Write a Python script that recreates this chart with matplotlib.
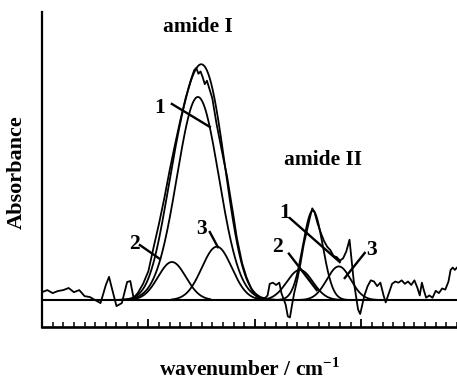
import numpy as np
import matplotlib
matplotlib.use("Agg")
import matplotlib.pyplot as plt
from matplotlib.ticker import MultipleLocator, NullFormatter

plt.rcParams['font.family'] = ['Liberation Serif', 'DejaVu Serif']
plt.rcParams['mathtext.fontset'] = 'custom'
plt.rcParams['mathtext.rm'] = 'Liberation Serif:bold'
plt.rcParams['mathtext.bf'] = 'Liberation Serif:bold'

# ---- measured spectrum (wavenumber / cm-1, absorbance, arbitrary units) ----
meas_wn = [1800, 1795, 1790, 1785, 1780, 1775, 1770, 1765, 1760, 1755, 1750, 1745,
           1740, 1737, 1734, 1730, 1725, 1720, 1717, 1714, 1710, 1705, 1700, 1695,
           1690, 1685, 1680, 1675, 1670, 1665, 1660, 1657, 1655, 1653, 1651, 1649,
           1647, 1645, 1642, 1640, 1636, 1630, 1626, 1620, 1617, 1612, 1608, 1603,
           1598, 1593, 1590, 1588, 1586, 1583, 1580, 1577, 1575, 1573, 1571, 1569,
           1567, 1565, 1563, 1560, 1557, 1554, 1551, 1548, 1546, 1544, 1541, 1538,
           1535, 1532, 1529, 1526, 1523, 1520, 1517, 1514, 1511, 1509, 1507, 1505,
           1503, 1501, 1499, 1497, 1494, 1491, 1488, 1485, 1482, 1479, 1477, 1474,
           1471, 1468, 1465, 1462, 1459, 1456, 1453, 1450, 1447, 1445, 1443, 1441,
           1439, 1436, 1433, 1430, 1427, 1424, 1421, 1418, 1416, 1414, 1412, 1410]
meas_ab = [0.034, 0.043, 0.030, 0.039, 0.043, 0.052, 0.034, 0.043, 0.017, 0.013, 0.000, -0.013,
           0.065, 0.100, 0.045, -0.026, -0.013, 0.078, 0.082, 0.010, 0.030, 0.070, 0.125, 0.230,
           0.330, 0.440, 0.560, 0.670, 0.775, 0.870, 0.950, 0.990, 1.000, 0.975, 0.985, 0.960,
           0.930, 0.945, 0.900, 0.870, 0.760, 0.620, 0.530, 0.360, 0.270, 0.160, 0.100, 0.045,
           0.013, 0.008, 0.010, 0.020, 0.070, 0.075, 0.065, 0.075, 0.030, 0.005, -0.020, -0.070,
           -0.075, -0.020, 0.030, 0.090, 0.160, 0.240, 0.300, 0.360, 0.395, 0.380, 0.330, 0.290,
           0.255, 0.230, 0.215, 0.190, 0.185, 0.170, 0.180, 0.210, 0.260, 0.170, 0.080, 0.020,
           -0.040, -0.060, -0.020, 0.020, 0.060, 0.085, 0.080, 0.060, 0.075, 0.020, -0.010, 0.030,
           0.070, 0.080, 0.075, 0.085, 0.070, 0.080, 0.065, 0.085, 0.050, 0.020, 0.075, 0.040,
           0.010, 0.020, 0.010, 0.040, 0.030, 0.050, 0.045, 0.080, 0.130, 0.140, 0.130, 0.140]

# ---- fitted Gaussian band components: centre (cm-1), height, sigma (cm-1), plotted range ----
band_names   = ['I-1', 'I-2', 'I-3', 'II-1', 'II-2', 'II-3']
band_centre  = [1653.5, 1677.9, 1635.7, 1545.5, 1557.7, 1521.1]
band_height  = [0.875, 0.164, 0.230, 0.385, 0.130, 0.145]
band_sigma   = [19.7, 13.1, 14.1, 9.4, 12.2, 11.3]
band_from    = [1745, 1717, 1678, 1580, 1590, 1560]
band_to      = [1570, 1642, 1590, 1510, 1513, 1480]
amideI_fit_range = (1745, 1575)

# ---- text labels ----
region_labels = ['amide I', 'amide II']
region_pos = [(1653.5, 1.177), (1536.0, 0.603)]
num_labels = ['1', '2', '3', '1', '2', '3']
num_pos = [(1689.0, 0.828), (1713.6, 0.241), (1649.8, 0.306),
           (1571.8, 0.375), (1578.4, 0.228), (1490.1, 0.216)]
leader_start = [(1678.0, 0.845), (1708.0, 0.237), (1642.3, 0.293),
                (1567.1, 0.353), (1568.0, 0.200), (1496.7, 0.203)]
leader_end = [(1642.3, 0.746), (1689.2, 0.177), (1634.7, 0.228),
              (1520.2, 0.164), (1541.8, 0.043), (1515.5, 0.095)]


def gauss(x, c, h, s):
    return h * np.exp(-(x - c) ** 2 / (2 * s ** 2))


fig = plt.figure(figsize=(4.57, 3.85), dpi=100)
ax = fig.add_axes([42 / 457, (385 - 327) / 385, 1 - 42 / 457, (327 - 12) / 385])

lw = 1.3
col = 'black'

# baseline
ax.axhline(0.0, color=col, lw=1.5, zorder=1)

# measured spectrum
ax.plot(meas_wn, meas_ab, color=col, lw=lw, zorder=3)

# components
for c, h, s, a, b in zip(band_centre, band_height, band_sigma, band_from, band_to):
    x = np.linspace(a, b, 300)
    ax.plot(x, gauss(x, c, h, s), color=col, lw=lw, zorder=2)

# amide I fit envelope
xe = np.linspace(amideI_fit_range[0], amideI_fit_range[1], 400)
env = np.zeros_like(xe)
for c, h, s in zip(band_centre[:3], band_height[:3], band_sigma[:3]):
    env += gauss(xe, c, h, s)
ax.plot(xe, env, color=col, lw=lw, zorder=2)

# labels
fs = 15.5
for t, (x, y) in zip(region_labels, region_pos):
    ax.text(x, y, t, ha='center', va='center', fontsize=fs, fontweight='bold')
for t, (x, y) in zip(num_labels, num_pos):
    ax.text(x, y, t, ha='center', va='center', fontsize=fs, fontweight='bold')
for (x0, y0), (x1, y1) in zip(leader_start, leader_end):
    ax.plot([x0, x1], [y0, y1], color=col, lw=1.7, zorder=4)

# axes
ax.set_xlim(1800, 1410)
ax.set_ylim(-0.116, 1.241)
for sp in ['top', 'right']:
    ax.spines[sp].set_visible(False)
ax.spines['left'].set_linewidth(1.6)
ax.spines['bottom'].set_linewidth(1.9)
ax.xaxis.set_major_locator(MultipleLocator(100))
ax.xaxis.set_minor_locator(MultipleLocator(10))
ax.xaxis.set_major_formatter(NullFormatter())
ax.tick_params(axis='x', which='major', direction='in', length=6, width=1.3)
ax.tick_params(axis='x', which='minor', direction='in', length=3.5, width=1.1)
ax.set_yticks([])

fig.text(17 / 457, 1 - 172 / 385, 'Absorbance', rotation=90, ha='center', va='center',
         fontsize=16, fontweight='bold')
fig.text(250 / 457, 1 - 370 / 385, r'wavenumber / cm$^{\mathbf{-1}}$', ha='center', va='center',
         fontsize=15.5, fontweight='bold')

fig.savefig('out.png', dpi=100)
